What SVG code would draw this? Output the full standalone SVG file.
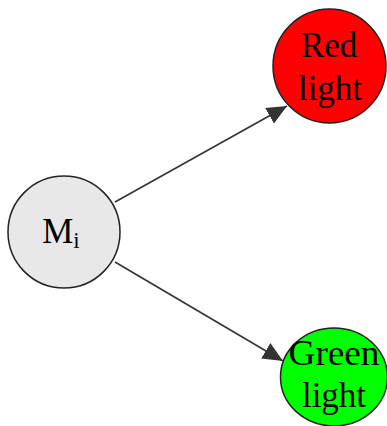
<svg xmlns="http://www.w3.org/2000/svg" width="387" height="426" viewBox="0 0 387 426">
<style>
.node{stroke:#222;stroke-width:1.5}
.lbl{font-family:"Liberation Serif","Times New Roman",serif;font-size:35px;fill:#000;text-anchor:middle}
.edge{stroke:#333;stroke-width:1.6;fill:none}
</style>
<defs>
<marker id="ah" markerUnits="userSpaceOnUse" markerWidth="22" markerHeight="18" refX="20" refY="9" orient="auto">
<path d="M0,0 L20,9 L0,18 Z" fill="#333"/>
</marker>
</defs>
<rect width="387" height="426" fill="#fff"/>
<g id="edges">
<line class="edge" x1="115" y1="202" x2="287" y2="106" marker-end="url(#ah)"/>
<line class="edge" x1="115" y1="262" x2="283" y2="361" marker-end="url(#ah)"/>
</g>
<g id="node-mi">
<circle class="node" cx="64" cy="232" r="56" fill="#e8e8e8"/>
<text class="lbl" x="61" y="243" font-size="36">M<tspan font-size="23" dy="5">i</tspan></text>
</g>
<g id="node-red">
<ellipse class="node" cx="329.5" cy="66" rx="56.5" ry="57" fill="#ff0000"/>
<text class="lbl" x="329" y="57">Red</text>
<text class="lbl" x="330" y="100">light</text>
</g>
<g id="node-green">
<ellipse class="node" cx="334" cy="377" rx="53.5" ry="49" fill="#00ff00"/>
<text class="lbl" x="334" y="365" textLength="91" lengthAdjust="spacingAndGlyphs">Green</text>
<text class="lbl" x="334" y="407">light</text>
</g>
</svg>
